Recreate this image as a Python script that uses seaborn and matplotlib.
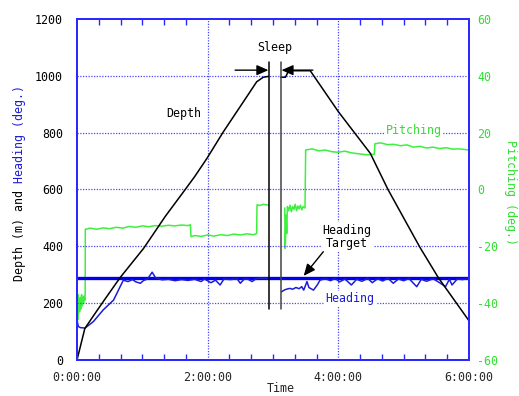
import numpy as np
import pandas as pd
import matplotlib
matplotlib.use("Agg")
import matplotlib.pyplot as plt
import seaborn as sns
from matplotlib.ticker import FixedLocator, FuncFormatter, MultipleLocator

# ---------------- data (time in hours) ----------------
depth_t1 = [0.00, 0.12, 0.25, 0.40, 0.66, 1.02, 1.35, 1.65, 1.80, 1.99, 2.24, 2.60, 2.75, 2.85, 2.93]
depth_v1 = [0, 111, 155, 205, 290, 393, 505, 598, 645, 710, 803, 927, 979, 995, 998]
depth_t2 = [3.12, 3.19, 3.24, 3.57, 4.00, 4.49, 4.76, 5.00, 5.25, 5.53, 6.00]
depth_v2 = [995, 995, 1018, 1018, 874, 727, 600, 500, 396, 290, 138]

pitch_t1 = [0.000, 0.005, 0.010, 0.015, 0.020, 0.030, 0.040, 0.050, 0.060, 0.070,
            0.080, 0.090, 0.100, 0.110, 0.120, 0.125, 0.127, 0.20, 0.30, 0.40,
            0.50, 0.60, 0.70, 0.80, 0.90, 1.00, 1.10, 1.20, 1.30, 1.40,
            1.50, 1.60, 1.70, 1.735, 1.745, 1.80, 1.90, 2.00, 2.10, 2.20,
            2.30, 2.40, 2.50, 2.60, 2.70, 2.750, 2.755, 2.80, 2.85, 2.93]
pitch_v1 = [-50.0, -38.0, -46.0, -37.0, -44.0, -39.0, -43.0, -38.0, -42.0, -37.0,
            -41.0, -38.0, -40.0, -37.5, -39.0, -37.0, -14.0, -13.6, -14.0, -13.5,
            -13.8, -13.3, -13.6, -13.0, -13.3, -12.8, -13.1, -12.7, -12.9, -12.6,
            -12.8, -12.5, -12.7, -12.4, -16.6, -16.2, -16.5, -16.0, -16.4, -15.9,
            -16.2, -15.7, -16.0, -15.6, -15.9, -15.5, -5.4, -5.6, -5.2, -5.5]
pitch_t2 = [3.18, 3.185, 3.19, 3.20, 3.21, 3.22, 3.24, 3.26, 3.28, 3.30,
            3.32, 3.34, 3.36, 3.38, 3.40, 3.42, 3.44, 3.46, 3.49, 3.50,
            3.60, 3.70, 3.80, 3.90, 4.00, 4.10, 4.20, 4.30, 4.44, 4.55,
            4.56, 4.65, 4.75, 4.85, 4.95, 5.05, 5.15, 5.25, 5.35, 5.45,
            5.55, 5.65, 5.75, 5.85, 6.00]
pitch_v2 = [-6.5, -20.7, -19.0, -9.0, -15.5, -6.0, -7.5, -5.5, -7.8, -6.0,
            -7.0, -5.2, -7.5, -5.8, -6.8, -5.5, -7.2, -6.0, -6.5, 13.9,
            14.3, 13.6, 13.9, 13.3, 13.1, 13.5, 12.9, 12.6, 12.2, 12.4,
            16.1, 16.4, 15.8, 15.9, 15.4, 15.7, 14.9, 15.2, 14.6, 14.9,
            14.4, 14.7, 14.2, 14.3, 13.9]

heading_t1 = [0.00, 0.02, 0.05, 0.10, 0.12, 0.25, 0.40, 0.56, 0.66, 0.71,
              0.78, 0.85, 0.90, 0.97, 1.02, 1.08, 1.15, 1.20, 1.30, 1.40,
              1.50, 1.60, 1.70, 1.80, 1.90, 1.95, 2.05, 2.12, 2.19, 2.25,
              2.35, 2.45, 2.50, 2.56, 2.62, 2.68, 2.74, 2.80, 2.93]
heading_v1 = [141, 118, 114, 113, 112, 135, 176, 211, 258, 281,
              276, 283, 275, 270, 280, 285, 309, 290, 282, 284,
              279, 283, 280, 284, 276, 285, 272, 281, 264, 285,
              283, 286, 270, 285, 284, 276, 286, 288, 287]
heading_t2 = [3.13, 3.18, 3.22, 3.26, 3.30, 3.35, 3.40, 3.44, 3.47, 3.52,
              3.55, 3.62, 3.68, 3.72, 3.80, 3.88, 3.95, 4.02, 4.10, 4.20,
              4.28, 4.36, 4.45, 4.52, 4.60, 4.68, 4.76, 4.84, 4.92, 5.00,
              5.08, 5.15, 5.20, 5.27, 5.35, 5.45, 5.55, 5.64, 5.70, 5.74,
              5.82, 5.90, 6.00]
heading_v2 = [240, 247, 250, 252, 249, 255, 251, 258, 246, 276,
              255, 246, 265, 281, 286, 279, 287, 275, 285, 264,
              284, 277, 287, 272, 286, 278, 288, 270, 285, 279,
              287, 270, 258, 284, 277, 286, 272, 258, 284, 264,
              285, 283, 287]

target_t = [0.0, 6.0]
target_v = [290, 290]

sleep_start, sleep_end = 2.94, 3.12
sleep_line_v = [178, 1050]

left_ticks = [0, 200, 400, 600, 800, 1000, 1200]
right_ticks = [-60, -40, -20, 0, 20, 40, 60]
x_ticks = [0, 2, 4, 6]

# ---------------- style ----------------
sns.set_style("white")
plt.rcParams['font.family'] = ['DejaVu Sans Mono', 'DejaVu Sans']
FS = 8.4
SPINE = '#2a2aff'
GRID = '#4848ff'
GREEN = '#3ef03e'
GREEN_T = '#33dd33'
BLUE = '#1c1cd8'


def seg_df(parts):
    rows = []
    for i, (t, v) in enumerate(parts):
        for a, b in zip(t, v):
            rows.append((a, b, i))
    return pd.DataFrame(rows, columns=['t', 'v', 'seg'])


fig = plt.figure(figsize=(5.19, 3.96), dpi=100)
ax = fig.add_axes([77 / 519, 1 - 360 / 396, (469 - 77) / 519, (360 - 19) / 396])
ax2 = ax.twinx()

ax.set_xlim(0, 6)
ax.set_ylim(0, 1200)
ax2.set_ylim(-60, 60)

# grid
for y in left_ticks[1:-1]:
    ax.axhline(y, color=GRID, lw=0.9, ls=(0, (1, 1.2)), zorder=0.5)
for x in [2, 4]:
    ax.axvline(x, color=GRID, lw=0.9, ls=(0, (1, 1.2)), zorder=0.5)

# pitching (right axis)
sns.lineplot(data=seg_df([(pitch_t1, pitch_v1), (pitch_t2, pitch_v2)]), x='t', y='v',
             units='seg', estimator=None, sort=False, color=GREEN, lw=1.1, ax=ax2, legend=False)

# depth, heading, target (left axis)
ax.set_zorder(ax2.get_zorder() + 1)
ax.patch.set_visible(False)
sns.lineplot(data=seg_df([(target_t, target_v)]), x='t', y='v', units='seg', estimator=None,
             color='#0000ee', lw=2.4, ax=ax, legend=False)
sns.lineplot(data=seg_df([(heading_t1, heading_v1), (heading_t2, heading_v2)]), x='t', y='v',
             units='seg', estimator=None, sort=False, color=BLUE, lw=1.1, ax=ax, legend=False)
sns.lineplot(data=seg_df([(depth_t1, depth_v1), (depth_t2, depth_v2)]), x='t', y='v',
             units='seg', estimator=None, sort=False, color='black', lw=1.1, ax=ax, legend=False)

# sleep markers
ax.plot([sleep_start, sleep_start], sleep_line_v, color='black', lw=1.1)
ax.plot([sleep_end, sleep_end], sleep_line_v, color='#444444', lw=1.1)
arrow_kw = dict(arrowstyle='-|>,head_length=0.5,head_width=0.22', color='black', lw=1.0,
                mutation_scale=14, shrinkA=0, shrinkB=0)
ax.annotate('', xy=(2.93, 1020), xytext=(2.42, 1020), arrowprops=arrow_kw)
ax.annotate('', xy=(3.13, 1020), xytext=(3.61, 1020), arrowprops=arrow_kw)
ax.text(3.03, 1098, 'Sleep', ha='center', va='center', fontsize=FS, color='black')
ax.text(1.64, 868, 'Depth', ha='center', va='center', fontsize=FS, color='black')

bb = dict(facecolor='white', edgecolor='none', pad=1.0)
ax.text(5.15, 809, 'Pitching', ha='center', va='center', fontsize=FS, color=GREEN_T, bbox=bb)
ax.text(4.18, 215, 'Heading', ha='center', va='center', fontsize=FS, color=BLUE, bbox=bb)
ax.text(4.13, 434, 'Heading\nTarget', ha='center', va='center', fontsize=FS, color='black',
        linespacing=1.0, bbox=bb)
ax.annotate('', xy=(3.47, 296), xytext=(3.77, 381), arrowprops=arrow_kw)

# axes / ticks
for a in (ax, ax2):
    for s in a.spines.values():
        s.set_color(SPINE)
        s.set_linewidth(1.4)

ax.xaxis.set_major_locator(FixedLocator(x_ticks))
ax.xaxis.set_minor_locator(MultipleLocator(1 / 3))
ax.xaxis.set_major_formatter(FuncFormatter(lambda v, p: f"{int(round(v))}:00:00"))
ax.tick_params(axis='x', which='both', direction='in', top=True, bottom=True,
               color=SPINE, labelsize=FS, pad=8)
ax.tick_params(axis='x', which='major', length=0)
ax.tick_params(axis='x', which='minor', length=4, width=1)
ax.yaxis.set_major_locator(FixedLocator(left_ticks))
ax.tick_params(axis='y', length=0, labelsize=FS, pad=10, labelcolor='black')
ax2.yaxis.set_major_locator(FixedLocator(right_ticks))
ax2.yaxis.set_major_formatter(FuncFormatter(lambda v, p: f"{int(v)}"))
ax2.tick_params(axis='y', length=0, labelsize=FS, pad=6, labelcolor=GREEN_T)
ax.set_xlabel('')
ax.set_ylabel('')
ax2.set_ylabel('')

# axis labels
fig.text(281 / 519, 1.5 / 396, 'Time', ha='center', va='bottom', fontsize=FS)
fig.text(510 / 519, 1 - 193 / 396, 'Pitching (deg.)', rotation=270, ha='center', va='center',
         fontsize=FS, color=GREEN_T)

fig.canvas.draw()
t1 = fig.text(20 / 519, 1 - 281 / 396, 'Depth (m) and ', rotation=90, rotation_mode='anchor',
              ha='left', va='center', fontsize=FS, color='black')
fig.canvas.draw()
r = fig.canvas.get_renderer()
ext = t1.get_window_extent(r)
inv = fig.transFigure.inverted()
ytop = inv.transform((0, ext.y1))[1]
fig.text(20 / 519, ytop, 'Heading (deg.)', rotation=90, rotation_mode='anchor',
         ha='left', va='center', fontsize=FS, color=BLUE)

fig.savefig('out.png', dpi=100)
